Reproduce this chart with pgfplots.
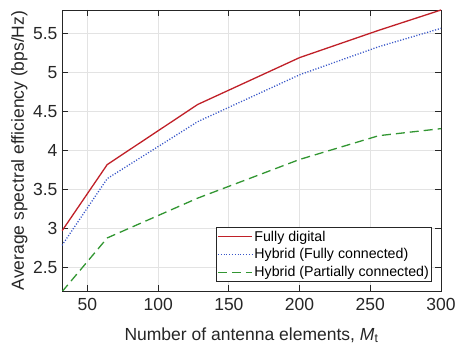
\documentclass[border=0pt]{standalone}
\usepackage{pgfplots}
\pgfplotsset{compat=1.18}
\usepackage{fontspec}
\setmainfont{Liberation Sans}
\usetikzlibrary{calc}
\definecolor{cred}{RGB}{192,32,40}
\definecolor{cblue}{RGB}{55,85,200}
\definecolor{cgreen}{RGB}{50,150,50}
\definecolor{caxis}{RGB}{38,38,38}
\begin{document}
\begin{tikzpicture}
\begin{axis}[name=ax,
  scale only axis, width=379pt, height=281pt,
  xmin=32, xmax=300, ymin=2.2, ymax=5.8,
  xtick={50,100,...,300}, ytick={2.5,3,...,5.5},
  tick align=inside, xtick pos=both, ytick pos=both,
  major tick length=6pt,
  grid=major, grid style={gray!22, line width=0.8pt},
  axis line style={caxis, line width=0.9pt},
  tick style={caxis, line width=0.9pt},
  /pgf/number format/assume math mode=true,
  ticklabel style={font=\fontsize{17.5}{20}\selectfont, text=caxis},
  xticklabel style={yshift=-4pt},
  yticklabel style={xshift=-1pt},
  xlabel={Number of antenna elements, \textit{M}\textsubscript{t}},
  ylabel={Average spectral efficiency (bps/Hz)},
  label style={font=\fontsize{17.5}{20}\selectfont, text=caxis},
  xlabel style={at={(axis description cs:0.5,-0.1745)}, anchor=base},
  ylabel style={at={(axis description cs:-0.1003,0.5)}, anchor=base},
  legend style={at={(axis description cs:0.9763,0.032)}, anchor=south east,
    draw=caxis, line width=0.8pt, fill=white,
    font=\fontsize{14.2}{16}\selectfont, text=black,
    inner xsep=1pt, inner ysep=1.5pt, row sep=2.5pt,
    nodes={inner xsep=1.8pt, inner ysep=1.8pt}},
  legend cell align=left,
  legend image code/.code={\draw[#1] (0pt,0pt) -- (34pt,0pt);},
]
\addplot[cred, line width=1.3pt] coordinates {
  (32,2.97) (64,3.82) (128,4.59) (200,5.19) (256,5.54) (300,5.80)};
\addlegendentry{Fully digital}
\addplot[cblue, line width=1.3pt, dash pattern=on 1.1pt off 1.7pt] coordinates {
  (32,2.785) (64,3.64) (128,4.37) (200,4.97) (256,5.33) (300,5.565)};
\addlegendentry{Hybrid (Fully connected)}
\addplot[cgreen, line width=1.3pt, dash pattern=on 9pt off 5pt] coordinates {
  (32,2.19) (64,2.88) (128,3.39) (200,3.885) (256,4.19) (300,4.28)};
\addlegendentry{Hybrid (Partially connected)}
\end{axis}
\pgfresetboundingbox
\path ($(ax.south west)+(-62pt,-54pt)$) rectangle ($(ax.north east)+(17pt,10pt)$);
\end{tikzpicture}
\end{document}
